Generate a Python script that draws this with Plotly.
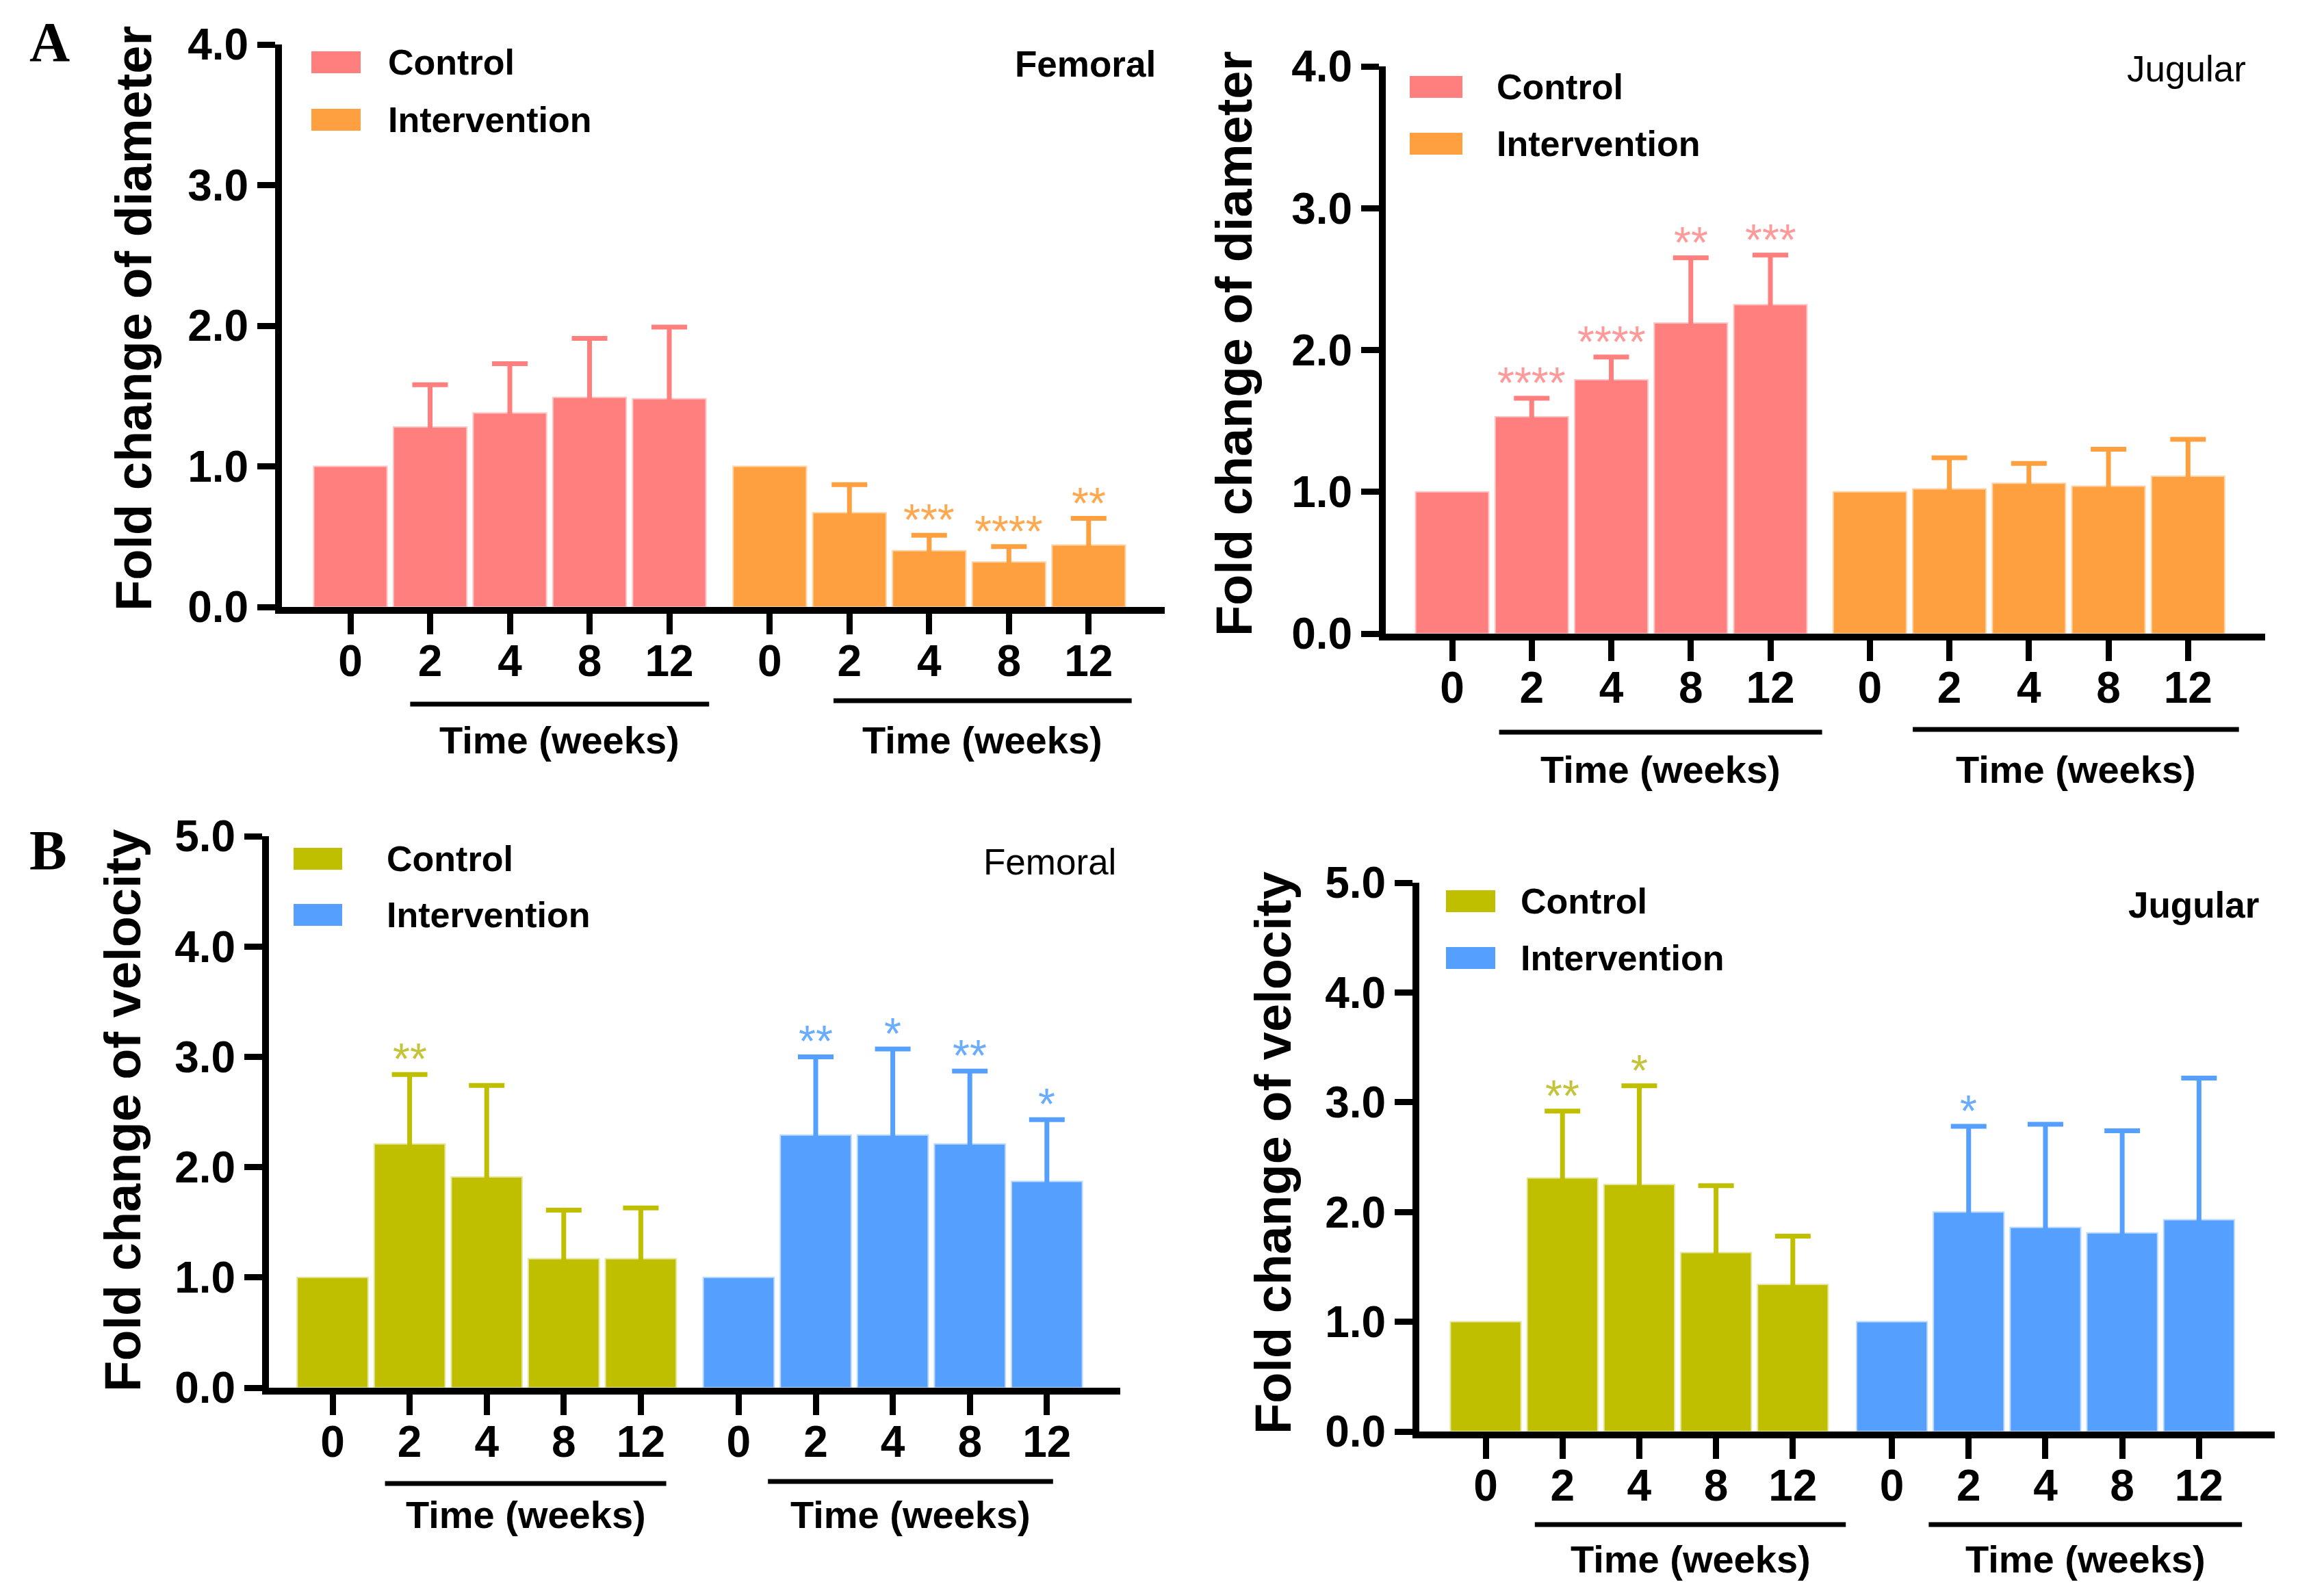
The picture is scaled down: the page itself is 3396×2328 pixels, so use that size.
import plotly.graph_objects as go

W, H = 3396, 2328
FONT = "Liberation Sans, Arial, sans-serif"

TIMES = ["0", "2", "4", "8", "12"]
GROUPS = ["Control", "Intervention"]

# ---- A: fold change of diameter -------------------------------------------
FEM_DIAM_CTRL = [1.00, 1.28, 1.38, 1.49, 1.48]
FEM_DIAM_CTRL_SD = [0.00, 0.30, 0.35, 0.42, 0.51]
FEM_DIAM_CTRL_SIG = ["", "", "", "", ""]
FEM_DIAM_INT = [1.00, 0.67, 0.40, 0.32, 0.44]
FEM_DIAM_INT_SD = [0.00, 0.20, 0.11, 0.11, 0.19]
FEM_DIAM_INT_SIG = ["", "", "***", "****", "**"]

JUG_DIAM_CTRL = [1.00, 1.53, 1.79, 2.19, 2.32]
JUG_DIAM_CTRL_SD = [0.00, 0.13, 0.16, 0.46, 0.35]
JUG_DIAM_CTRL_SIG = ["", "****", "****", "**", "***"]
JUG_DIAM_INT = [1.00, 1.02, 1.06, 1.04, 1.11]
JUG_DIAM_INT_SD = [0.00, 0.22, 0.14, 0.26, 0.26]
JUG_DIAM_INT_SIG = ["", "", "", "", ""]

# ---- B: fold change of velocity -------------------------------------------
FEM_VEL_CTRL = [1.00, 2.21, 1.91, 1.17, 1.17]
FEM_VEL_CTRL_SD = [0.00, 0.63, 0.83, 0.44, 0.46]
FEM_VEL_CTRL_SIG = ["", "**", "", "", ""]
FEM_VEL_INT = [1.00, 2.29, 2.29, 2.21, 1.87]
FEM_VEL_INT_SD = [0.00, 0.71, 0.78, 0.66, 0.56]
FEM_VEL_INT_SIG = ["", "**", "*", "**", "*"]

JUG_VEL_CTRL = [1.00, 2.31, 2.25, 1.63, 1.34]
JUG_VEL_CTRL_SD = [0.00, 0.61, 0.90, 0.61, 0.44]
JUG_VEL_CTRL_SIG = ["", "**", "*", "", ""]
JUG_VEL_INT = [1.00, 2.00, 1.86, 1.81, 1.93]
JUG_VEL_INT_SD = [0.00, 0.78, 0.94, 0.93, 1.29]
JUG_VEL_INT_SIG = ["", "*", "", "", ""]

Y_TICKS_DIAM = [0, 1, 2, 3, 4]
Y_TICKS_VEL = [0, 1, 2, 3, 4, 5]

DIAM_COLORS = ("#FF7F7F", "#FFA040")
DIAM_LIGHT = ("#FFC4C4", "#FFD3A6")
DIAM_STAR = ("#FF9A9A", "#FFA850")
VEL_COLORS = ("#BFBF00", "#55A0FF")
VEL_LIGHT = ("#E6E6A0", "#BCD9FF")
VEL_STAR = ("#C4C43A", "#6AACFF")

PANELS = [
    dict(site="Femoral", site_bold=True, ytitle="Fold change of diameter",
         ctrl=(FEM_DIAM_CTRL, FEM_DIAM_CTRL_SD, FEM_DIAM_CTRL_SIG),
         intv=(FEM_DIAM_INT, FEM_DIAM_INT_SD, FEM_DIAM_INT_SIG),
         yticks=Y_TICKS_DIAM, colors=DIAM_COLORS, light=DIAM_LIGHT, star=DIAM_STAR,
         left=412, right=1702, top=65, bottom=887, p0=512, step=116.5, int_start=5.26,
         leg=(455, 527, 91, 175, 565), site_xy=(1691, 94), ytitle_xy=(196, 466),
         brk_ctrl=(-0.25, 0.50, 1029), brk_int=(-0.20, 0.54, 1024), time_y=1081),
    dict(site="Jugular", site_bold=False, ytitle="Fold change of diameter",
         ctrl=(JUG_DIAM_CTRL, JUG_DIAM_CTRL_SD, JUG_DIAM_CTRL_SIG),
         intv=(JUG_DIAM_INT, JUG_DIAM_INT_SD, JUG_DIAM_INT_SIG),
         yticks=Y_TICKS_DIAM, colors=DIAM_COLORS, light=DIAM_LIGHT, star=DIAM_STAR,
         left=2025, right=3310, top=97, bottom=926, p0=2122, step=116.25, int_start=5.25,
         leg=(2060, 2137, 127, 210, 2185), site_xy=(3284, 101), ytitle_xy=(1803, 503),
         brk_ctrl=(-0.41, 0.65, 1070), brk_int=(-0.46, 0.64, 1066), time_y=1124),
    dict(site="Femoral", site_bold=False, ytitle="Fold change of velocity",
         ctrl=(FEM_VEL_CTRL, FEM_VEL_CTRL_SD, FEM_VEL_CTRL_SIG),
         intv=(FEM_VEL_INT, FEM_VEL_INT_SD, FEM_VEL_INT_SIG),
         yticks=Y_TICKS_VEL, colors=VEL_COLORS, light=VEL_LIGHT, star=VEL_STAR,
         left=393, right=1637, top=1222, bottom=2028, p0=486, step=112.6, int_start=5.27,
         leg=(429, 500, 1255, 1337, 563), site_xy=(1633, 1259), ytitle_xy=(179, 1623),
         brk_ctrl=(-0.32, 0.33, 2168), brk_int=(-0.62, 0.08, 2165), time_y=2213),
    dict(site="Jugular", site_bold=True, ytitle="Fold change of velocity",
         ctrl=(JUG_VEL_CTRL, JUG_VEL_CTRL_SD, JUG_VEL_CTRL_SIG),
         intv=(JUG_VEL_INT, JUG_VEL_INT_SD, JUG_VEL_INT_SIG),
         yticks=Y_TICKS_VEL, colors=VEL_COLORS, light=VEL_LIGHT, star=VEL_STAR,
         left=2074, right=3324, top=1290, bottom=2092, p0=2171, step=112.2, int_start=5.29,
         leg=(2113, 2185, 1317, 1400, 2220), site_xy=(3303, 1322), ytitle_xy=(1860, 1685),
         brk_ctrl=(-0.36, 0.69, 2228), brk_int=(-0.52, 0.56, 2228), time_y=2278),
]

BAR_WIDTH = 0.92
STAR_SIZE = 64
STAR_SHIFT = 22


def px(xp):
    return xp / W


def py(yp):
    return 1 - yp / H


fig = go.Figure()
shapes = []
annotations = []
layout = {}

for k, p in enumerate(PANELS):
    n = "" if k == 0 else str(k + 1)
    xref, yref = "x" + n, "y" + n
    pos = [list(range(len(TIMES))), [p["int_start"] + i for i in range(len(TIMES))]]
    groups = [p["ctrl"], p["intv"]]

    for g, (vals, sds, sigs) in enumerate(groups):
        fig.add_trace(go.Bar(
            x=pos[g], y=vals, width=BAR_WIDTH, name=GROUPS[g], xaxis=xref, yaxis=yref,
            marker=dict(color=p["colors"][g], line=dict(color=p["light"][g], width=2)),
            showlegend=False, hoverinfo="skip"))
        ex = [x for x, s in zip(pos[g], sds) if s > 0]
        ey = [v for v, s in zip(vals, sds) if s > 0]
        es = [s for s in sds if s > 0]
        fig.add_trace(go.Scatter(
            x=ex, y=ey, mode="markers", xaxis=xref, yaxis=yref,
            marker=dict(size=1, color="rgba(0,0,0,0)"),
            error_y=dict(type="data", array=es, symmetric=True, color=p["colors"][g],
                         thickness=7, width=26),
            showlegend=False, hoverinfo="skip"))
        for x, v, s, sig in zip(pos[g], vals, sds, sigs):
            if sig:
                annotations.append(dict(
                    x=x, y=v + s, xref=xref, yref=yref, text=sig, showarrow=False,
                    yanchor="middle", yshift=STAR_SHIFT,
                    font=dict(family=FONT, size=STAR_SIZE, color=p["star"][g])))

        # bracket + "Time (weeks)"
        b0, b1, by = p["brk_ctrl"] if g == 0 else p["brk_int"]
        x0, x1 = pos[g][1] + b0, pos[g][-1] + b1
        shapes.append(dict(type="line", xref=xref, yref="paper", x0=x0, x1=x1,
                           y0=py(by), y1=py(by), line=dict(color="black", width=7)))
        annotations.append(dict(
            x=(x0 + x1) / 2, y=py(p["time_y"]), xref=xref, yref="paper",
            text="Time (weeks)", showarrow=False, xanchor="center", yanchor="middle",
            font=dict(family=FONT, size=56, color="black", weight="bold")))

        # legend
        lx0, lx1, lyc, lyi, ltx = p["leg"]
        ly = lyc if g == 0 else lyi
        shapes.append(dict(type="rect", xref="paper", yref="paper",
                           x0=px(lx0), x1=px(lx1), y0=py(ly - 16), y1=py(ly + 16),
                           fillcolor=p["colors"][g], line=dict(width=0)))
        annotations.append(dict(
            x=px(ltx), y=py(ly), xref="paper", yref="paper", text=GROUPS[g],
            showarrow=False, xanchor="left", yanchor="middle",
            font=dict(family=FONT, size=52, color="black", weight="bold")))

    # axes
    lo = (p["left"] - p["p0"]) / p["step"]
    hi = (p["right"] - p["p0"]) / p["step"]
    layout["xaxis" + n] = dict(
        domain=[px(p["left"]), px(p["right"])], range=[lo, hi], anchor=yref,
        tickmode="array", tickvals=pos[0] + pos[1], ticktext=TIMES + TIMES,
        ticks="outside", ticklen=30, tickwidth=9, tickcolor="black",
        showline=True, linewidth=10, linecolor="black", automargin=False,
        showgrid=False, zeroline=False, fixedrange=True, ticklabelstandoff=-16,
        tickfont=dict(family=FONT, size=64, color="black", weight="bold"))
    layout["yaxis" + n] = dict(
        domain=[py(p["bottom"]), py(p["top"])], range=[0, p["yticks"][-1]], anchor=xref,
        tickmode="array", tickvals=p["yticks"],
        ticktext=["%.1f" % t for t in p["yticks"]],
        ticks="outside", ticklen=26, tickwidth=9, tickcolor="black",
        showline=True, linewidth=10, linecolor="black", automargin=False,
        showgrid=False, zeroline=False, fixedrange=True,
        tickfont=dict(family=FONT, size=64, color="black", weight="bold"))

    # site label, y title
    sx, sy = p["site_xy"]
    annotations.append(dict(
        x=px(sx), y=py(sy), xref="paper", yref="paper", text=p["site"], showarrow=False,
        xanchor="right", yanchor="middle",
        font=dict(family=FONT, size=53, color="black",
                  weight="bold" if p["site_bold"] else "normal")))
    tx, ty = p["ytitle_xy"]
    annotations.append(dict(
        x=px(tx), y=py(ty), xref="paper", yref="paper", text=p["ytitle"], showarrow=False,
        textangle=-90, xanchor="center", yanchor="middle",
        font=dict(family=FONT, size=74, color="black", weight="bold")))

# panel letters
for letter, (lx, ly) in (("A", (72, 61)), ("B", (70, 1242))):
    annotations.append(dict(
        x=px(lx), y=py(ly), xref="paper", yref="paper", text=letter, showarrow=False,
        xanchor="center", yanchor="middle",
        font=dict(family="Liberation Serif, Times New Roman, serif", size=82,
                  color="black", weight="bold")))

fig.update_layout(
    template="none",
    width=W, height=H, margin=dict(l=0, r=0, t=0, b=0, pad=0, autoexpand=False),
    paper_bgcolor="white", plot_bgcolor="white", showlegend=False,
    barmode="overlay", shapes=shapes, annotations=annotations, **layout)

fig.write_html("out.html")
